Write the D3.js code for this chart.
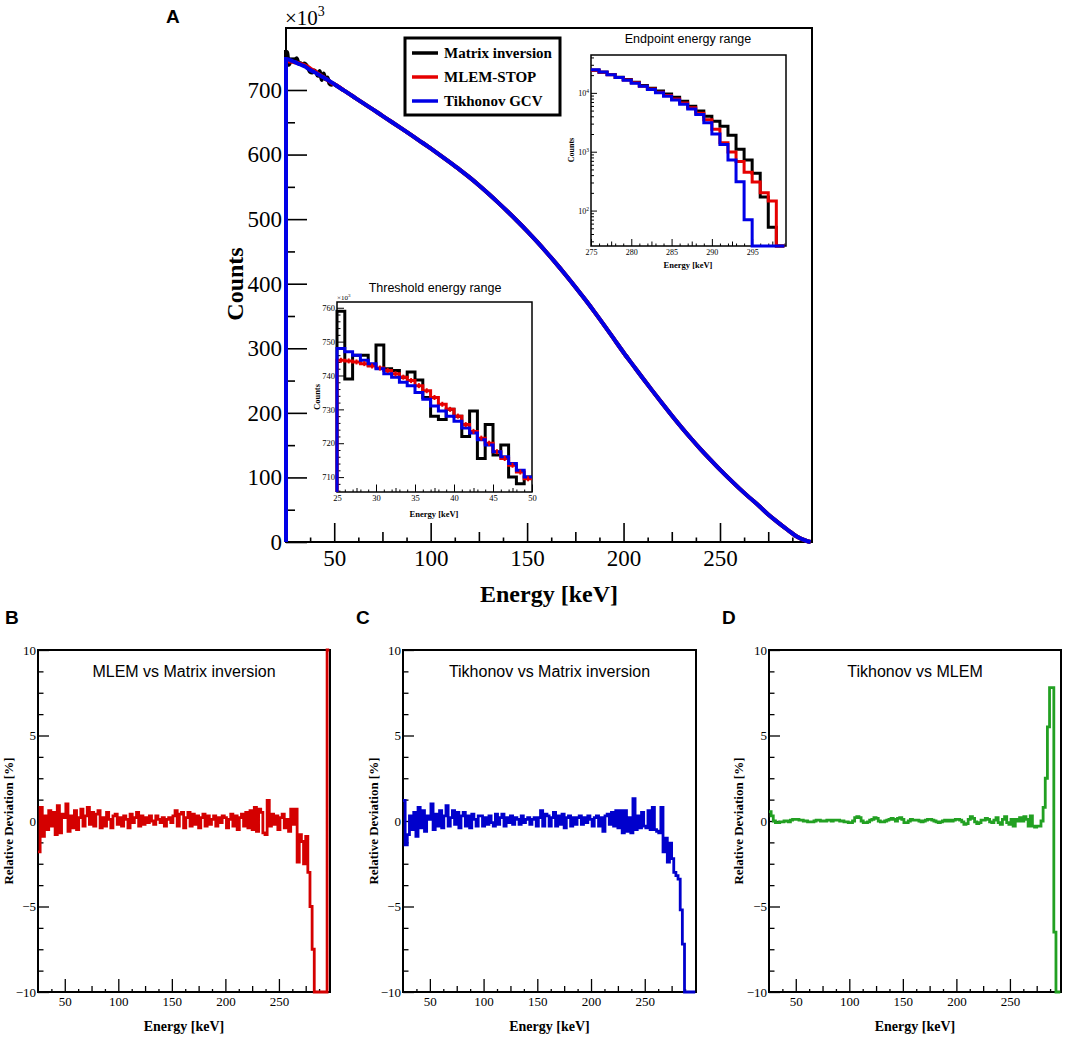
<!DOCTYPE html>
<html lang="en">
<head>
    <meta charset="UTF-8">
    <title>Unfolded spectrum - method comparison</title>
    <script src="https://d3js.org/d3.v7.min.js"></script>
    <style>
        html, body {
            margin: 0;
            background: #fff;
        }
        svg { display: block; }
    </style>
</head>
<body>
    <div id="vis"></div>
    <script>
        /*
         *  DATA
         */
        var seriesNames = ["Matrix inversion", "MLEM-STOP", "Tikhonov GCV"];
        var seriesColors = ["#000000", "#e60000", "#0000e6"];

        var mainTicksX = [50, 100, 150, 200, 250];
        var mainTicksY = [0, 100, 200, 300, 400, 500, 600, 700];

        // threshold region, 1 keV bins (lower edges), counts x10^3
        var thrEnergy = [25, 26, 27, 28, 29, 30, 31, 32, 33, 34, 35, 36, 37, 38, 39, 40, 41, 42, 43, 44, 45, 46, 47, 48, 49];
        var thrMatrix = [759, 739, 746, 746, 743, 749, 742, 741.5, 739.5, 741, 738.7, 733.5, 728, 727, 730, 728, 722, 729.5, 715.5, 725.5, 716.5, 719.5, 710, 708, 710];
        var thrMlem = [744.5, 744.3, 744, 743.5, 742.8, 742.2, 741.5, 740.5, 739.5, 738.5, 737, 735.5, 733.5, 731.5, 730, 728, 725.5, 723.5, 721.5, 720, 717.5, 715.5, 713.5, 711.5, 709.5];
        var thrTikh = [748, 747, 746, 744.5, 743.5, 742, 740.5, 739.5, 738, 737, 735, 733, 731, 729.5, 728, 726.5, 724.5, 723, 721, 719.5, 717.5, 716, 714, 712, 710];
        var thrTicksX = [25, 30, 35, 40, 45, 50];
        var thrTicksY = [710, 720, 730, 740, 750, 760];

        // full spectrum above 50 keV, read every 5 keV, counts x10^3
        var specEnergy = [50, 55, 60, 65, 70, 75, 80, 85, 90, 95, 100, 105, 110, 115, 120, 125, 130, 135, 140, 145,
                          150, 155, 160, 165, 170, 175, 180, 185, 190, 195, 200, 205, 210, 215, 220, 225, 230, 235, 240, 245,
                          250, 255, 260, 265, 270, 275, 280, 285, 290, 295, 297];
        var specCounts = [709, 699.3, 689.5, 679.7, 669.9, 660, 650.1, 640.1, 630, 619.8, 609.5, 598.9, 588, 576.8, 565, 552.5, 539.3, 525.6, 511.4, 496.7,
                          481.5, 465.5, 448.8, 431.5, 413.5, 395, 375.8, 356, 335.5, 314.5, 293.5, 273.5, 253.5, 234, 214.8, 196, 177.8, 160.3, 143.5, 127.5,
                          112, 97.3, 83, 69.5, 56.5, 42.5, 30.5, 19, 8, 1.5, 0];

        // endpoint region, 1 keV bins (lower edges), counts
        var endEnergy = [275, 276, 277, 278, 279, 280, 281, 282, 283, 284, 285, 286, 287, 288, 289, 290, 291, 292, 293, 294, 295, 296, 297, 298];
        var endMatrix = [24200, 22400, 20500, 18400, 16800, 15200, 13300, 12000, 10800, 9600, 8400, 7200, 5900, 4900, 4000, 3300, 2700, 1900, 1100, 720, 430, 170, 52, 0];
        var endMlem = [24300, 22300, 20300, 18300, 16500, 14800, 13000, 11600, 10200, 9000, 7900, 6700, 5600, 4500, 3500, 2400, 1420, 990, 680, 450, 305, 200, 145, 0];
        var endTikh = [24800, 22600, 20400, 18300, 16400, 14600, 12900, 11400, 10000, 8800, 7600, 6400, 5300, 4300, 3100, 2000, 1330, 720, 310, 70, 0, 0, 0, 0];
        var endTicksX = [275, 280, 285, 290, 295];
        var endTicksY = [100, 1000, 10000];

        // relative deviation [%], 2 keV bins starting at 25 keV
        var devEnergy = d3.range(25, 297, 2);
        var devMlemMatrix = [
            -1.8, 0.8, -0.9, 0.3, -0.5, 0.6, -0.3, 0.5, -0.8, 0.9,
            -0.7, 0.4, 0.2, 1.0, -0.6, 0.3, -0.4, 0.6, -0.5, 0.2,
            0.7, -0.3, 0.3, 0.8, -0.2, 0.5, -0.3, 0.4, 0.6, -0.4,
            0.2, -0.3, 0.5, 0.1, -0.4, 0.3, 0.4, -0.2, 0.2, -0.3,
            0.3, 0.1, -0.4, 0.4, -0.1, 0.2, 0.5, -0.3, 0.3, -0.2,
            0.2, -0.1, 0.3, 0.0, -0.2, 0.3, 0.1, -0.1, 0.2, -0.3,
            0.1, 0.2, -0.1, 0.3, 0.6, -0.3, 0.4, 0.5, -0.4, 0.2,
            0.5, -0.3, 0.4, -0.2, 0.3, -0.4, 0.2, 0.4, -0.3, 0.3,
            -0.2, 0.1, 0.3, -0.3, 0.2, -0.1, 0.3, 0.2, -0.4, 0.1,
            0.4, -0.3, 0.3, -0.5, 0.2, 0.4, -0.3, 0.5, -0.4, 0.6,
            -0.5, 0.8, -0.6, 0.7, 0.5, -0.7, -0.8, 1.2, -0.3, 0.4,
            -0.2, 0.3, -0.5, 0.2, 0.4, -0.4, 0.1, -0.6, 0.7, -0.2,
            0.7, -2.4, -0.8, -1.2, -2.5, -0.9, -3.0, -5.0, -7.5, -12,
            -12, -12, -12, -12, -12, 12];
        var devTikhMatrix = [
            1.2, -1.4, -0.8, 0.3, -0.5, 0.5, -0.9, 0.8, -0.4, 0.6,
            -0.6, 0.3, 0.1, 1.0, -0.5, 0.4, -0.3, 0.6, -0.4, 0.3,
            0.9, -0.3, 0.2, 0.6, -0.2, 0.5, -0.4, 0.3, 0.5, -0.3,
            0.3, -0.4, 0.4, 0.1, -0.3, 0.3, 0.3, -0.3, 0.2, -0.2,
            0.3, -0.1, -0.3, 0.4, -0.2, 0.2, 0.4, -0.3, 0.2, -0.1,
            0.3, -0.2, 0.2, 0.1, -0.2, 0.3, -0.1, 0.1, 0.2, -0.2,
            0.1, 0.2, -0.3, 0.2, 0.6, -0.3, 0.4, 0.3, -0.3, 0.2,
            0.5, -0.3, 0.3, -0.2, 0.4, -0.4, 0.2, 0.3, -0.3, 0.2,
            -0.2, 0.2, 0.3, -0.2, 0.2, -0.1, 0.3, 0.1, -0.3, 0.2,
            0.3, -0.3, 0.2, -0.6, 0.3, 0.4, -0.2, 0.5, -0.3, 0.6,
            -0.4, 0.6, -0.7, 0.6, -0.6, 0.2, -0.7, 1.3, -0.5, 0.3,
            -0.4, 0.5, -0.3, -0.4, 0.6, -0.5, 0.8, -0.5, -0.6, -0.7,
            0.8, -1.8, -1.0, -2.4, -1.3, -2.2, -3.0, -3.2, -3.4, -5.2,
            -7.2, -12, -12, -12, -12, -12];
        var devTikhMlem = [
            0.55, 0.3, 0.0, -0.1, -0.1, -0.05, -0.05, 0.0, 0.0, -0.05,
            0.05, 0.1, 0.1, 0.1, 0.05, 0.05, 0.0, 0.0, -0.05, -0.05,
            -0.05, 0.0, 0.05, 0.05, 0.0, 0.0, 0.0, 0.05, 0.05, 0.0,
            0.05, 0.05, 0.05, 0.0, 0.0, -0.05, -0.05, -0.1, -0.1, 0.0,
            0.2, 0.25, 0.2, 0.0, -0.1, -0.1, -0.05, 0.05, 0.1, 0.2,
            0.15, 0.0, -0.05, -0.05, 0.0, 0.05, 0.1, 0.15, 0.1, 0.0,
            0.15, 0.2, 0.1, -0.1, -0.1, 0.0, 0.1, 0.05, 0.05, 0.05,
            0.0, -0.05, 0.0, 0.05, 0.1, 0.1, 0.05, 0.0, -0.05, -0.1,
            -0.05, 0.0, 0.05, 0.0, 0.05, 0.0, 0.05, 0.1, 0.1, 0.05,
            -0.05, -0.2, -0.15, 0.1, 0.25, 0.15, -0.05, -0.15, -0.1, 0.05,
            0.05, 0.15, 0.1, -0.05, -0.1, 0.05, 0.2, -0.1, -0.2, 0.1,
            0.25, -0.1, -0.2, 0.1, -0.3, 0.1, 0.0, 0.2, 0.0, 0.25,
            0.1, -0.3, 0.3, -0.3, -0.35, -0.3, -0.3, 0.0, 0.8, 2.5,
            5.5, 7.8, 7.8, -6.5, -12, -12];
        var devTicksX = [50, 100, 150, 200, 250];
        var devTicksY = [-10, -5, 0, 5, 10];

        /*
         *  SETUP
         */
        var SERIF = "'Liberation Serif', 'Times New Roman', serif";
        var SANS = "'Liberation Sans', Arial, sans-serif";

        var svg = d3.select('#vis')
            .append('svg')
                .attr('width', 1065)
                .attr('height', 1037);

        function minorTicks(start, stop, step, skip) {
            // tick positions on a regular grid, without the ones already drawn
            return d3.range(start, stop + 1e-9, step).filter(function(v) {
                return skip.every(function(m) { return Math.abs(m - v) > 1e-6; });
            });
        }

        function drawAxes(g, x, y, o) {
            var x0 = x.range()[0], x1 = x.range()[1];
            var y0 = y.range()[0], y1 = y.range()[1];

            g.append('rect')
                .attr('x', x0).attr('y', y1)
                .attr('width', x1 - x0).attr('height', y0 - y1)
                .attr('fill', 'none')
                .attr('stroke', '#000')
                .attr('stroke-width', o.frame);

            var axes = [];
            var bottom = g.append('g')
                .attr('transform', 'translate(0,' + y0 + ')')
                .call(d3.axisBottom(x).tickValues(o.xMajor).tickSize(-o.xLen).tickPadding(o.xPad)
                    .tickFormat(o.xFmt || function(d) { return d; }));
            axes.push(bottom);
            (o.xMinor || []).forEach(function(m) {
                axes.push(g.append('g')
                    .attr('transform', 'translate(0,' + y0 + ')')
                    .call(d3.axisBottom(x).tickValues(m[0]).tickSize(-m[1]).tickFormat('')));
            });

            var left = g.append('g')
                .attr('transform', 'translate(' + x0 + ',0)')
                .call(d3.axisLeft(y).tickValues(o.yMajor).tickSize(-o.yLen).tickPadding(o.yPad)
                    .tickFormat(o.yFmt || function(d) { return d < 0 ? '\u2212' + (-d) : d; }));
            axes.push(left);
            (o.yMinor || []).forEach(function(m) {
                axes.push(g.append('g')
                    .attr('transform', 'translate(' + x0 + ',0)')
                    .call(d3.axisLeft(y).tickValues(m[0]).tickSize(-m[1]).tickFormat('')));
            });

            axes.forEach(function(a) {
                a.select('.domain').remove();
                a.selectAll('line').attr('stroke', '#000').attr('stroke-width', o.tickW);
                a.attr('font-family', SERIF).attr('font-size', o.font);
                a.selectAll('text').attr('fill', '#000');
            });
            bottom.selectAll('text').attr('dy', '0.71em');
            return {bottom: bottom, left: left};
        }

        /*
         *  PANEL A - unfolded spectra
         */
        var mx = d3.scaleLinear().domain([25, 297.7]).range([286, 812]).clamp(true);
        var my = d3.scaleLinear().domain([0, 796]).range([542, 28]).clamp(true);
        var gA = svg.append('g');

        var mainMid = minorTicks(75, 275, 50, []);
        drawAxes(gA, mx, my, {
            frame: 2, tickW: 1.6, font: 23,
            xMajor: mainTicksX, xPad: 8, xLen: 19,
            xMinor: [[mainMid, 10], [minorTicks(37.5, 295, 12.5, mainTicksX.concat(mainMid)), 4.5]],
            yMajor: mainTicksY, yPad: 4, yLen: 21,
            yMinor: [[minorTicks(50, 750, 100, []), 9]]
        });

        var mainLine = d3.line()
            .curve(d3.curveMonotoneX)
            .x(function(d) { return mx(d[0]); })
            .y(function(d) { return my(d[1]); });

        [thrMatrix, thrMlem, thrTikh].forEach(function(thr, k) {
            var pts = [[24.999, 0], [25, thr[0]]]
                .concat(thr.map(function(v, i) { return [thrEnergy[i] + 0.5, v]; }))
                .concat(specCounts.map(function(v, i) { return [specEnergy[i], v]; }));
            gA.append('path')
                .datum(pts)
                .attr('d', mainLine)
                .attr('fill', 'none')
                .attr('stroke', seriesColors[k])
                .attr('stroke-width', 4);
        });

        // x10^3 multiplier
        var mult = gA.append('text')
            .attr('x', 285).attr('y', 25)
            .attr('font-family', SERIF).attr('font-size', 21)
            .text('\u00d710');
        mult.append('tspan').attr('dy', -9).attr('font-size', 14).text('3');

        gA.append('text')
            .attr('transform', 'translate(243,284) rotate(-90)')
            .attr('text-anchor', 'middle')
            .attr('font-family', SERIF).attr('font-weight', 'bold').attr('font-size', 24)
            .text('Counts');

        gA.append('text')
            .attr('x', 549).attr('y', 602)
            .attr('text-anchor', 'middle')
            .attr('font-family', SERIF).attr('font-weight', 'bold').attr('font-size', 24)
            .text('Energy [keV]');

        gA.append('text')
            .attr('x', 166).attr('y', 23)
            .attr('font-family', SANS).attr('font-weight', 'bold').attr('font-size', 19)
            .text('A');

        // legend
        var legend = gA.append('g');
        legend.append('rect')
            .attr('x', 405).attr('y', 38).attr('width', 155).attr('height', 77)
            .attr('fill', '#fff').attr('stroke', '#000').attr('stroke-width', 3);
        seriesNames.forEach(function(name, k) {
            var yy = 53 + k * 24;
            legend.append('line')
                .attr('x1', 412).attr('x2', 438).attr('y1', yy).attr('y2', yy)
                .attr('stroke', seriesColors[k]).attr('stroke-width', 3.5);
            legend.append('text')
                .attr('x', 444).attr('y', yy).attr('dy', '0.35em')
                .attr('font-family', SERIF).attr('font-weight', 'bold').attr('font-size', 15)
                .text(name);
        });

        /*
         *  INSET - endpoint energy range (log)
         */
        var ex = d3.scaleLinear().domain([275, 299.2]).range([591, 786]).clamp(true);
        var ey = d3.scaleLog().domain([25, 44000]).range([246, 55]).clamp(true);
        var gE = svg.append('g');
        var logMinor = [];
        [10, 100, 1000, 10000].forEach(function(dec) {
            d3.range(2, 10).forEach(function(m) {
                var v = dec * m;
                if (v > 25 && v < 44000) logMinor.push(v);
            });
        });
        var eAx = drawAxes(gE, ex, ey, {
            frame: 1.5, tickW: 1, font: 8,
            xMajor: endTicksX, xPad: 3, xLen: 7,
            xMinor: [[minorTicks(277.5, 297.5, 5, []), 4.5], [minorTicks(276, 299, 1, endTicksX), 2.5]],
            yMajor: endTicksY, yPad: 2, yLen: 6,
            yMinor: [[logMinor, 3]],
            yFmt: function() { return '10'; }
        });
        eAx.left.selectAll('text').each(function(d) {
            d3.select(this).append('tspan')
                .attr('dy', -3).attr('font-size', 5.5)
                .text(Math.round(Math.log10(d)));
        });

        var endLine = d3.line()
            .curve(d3.curveStepAfter)
            .x(function(d) { return ex(d[0]); })
            .y(function(d) { return ey(Math.max(d[1], 1)); });

        [endMatrix, endMlem, endTikh].forEach(function(arr, k) {
            var pts = arr.map(function(v, i) { return [endEnergy[i], v]; });
            pts.push([endEnergy[endEnergy.length - 1] + 1, arr[arr.length - 1]]);
            gE.append('path')
                .datum(pts)
                .attr('d', endLine)
                .attr('fill', 'none')
                .attr('stroke', seriesColors[k])
                .attr('stroke-width', 3);
        });

        gE.append('text')
            .attr('x', 688).attr('y', 43)
            .attr('text-anchor', 'middle')
            .attr('font-family', SANS).attr('font-size', 12.5)
            .text('Endpoint energy range');
        gE.append('text')
            .attr('transform', 'translate(574,150) rotate(-90)')
            .attr('text-anchor', 'middle')
            .attr('font-family', SERIF).attr('font-weight', 'bold').attr('font-size', 8)
            .text('Counts');
        gE.append('text')
            .attr('x', 688).attr('y', 268)
            .attr('text-anchor', 'middle')
            .attr('font-family', SERIF).attr('font-weight', 'bold').attr('font-size', 8.5)
            .text('Energy [keV]');

        /*
         *  INSET - threshold energy range
         */
        var tx = d3.scaleLinear().domain([25, 50]).range([337, 532]).clamp(true);
        var ty = d3.scaleLinear().domain([705.6, 761.7]).range([492, 302]).clamp(true);
        var gT = svg.append('g');

        // white backing so the inset sits over the main pad
        gT.append('rect')
            .attr('x', 337).attr('y', 302).attr('width', 195).attr('height', 190)
            .attr('fill', '#fff');

        drawAxes(gT, tx, ty, {
            frame: 1.5, tickW: 1, font: 8.5,
            xMajor: thrTicksX, xPad: 3, xLen: 7.5,
            xMinor: [[minorTicks(27.5, 47.5, 5, []), 4], [minorTicks(26, 49, 1, thrTicksX), 2.5]],
            yMajor: thrTicksY, yPad: 2, yLen: 7,
            yMinor: [[minorTicks(706, 761, 2, thrTicksY), 3.5]]
        });

        var thrLine = d3.line()
            .curve(d3.curveStepAfter)
            .x(function(d) { return tx(d[0]); })
            .y(function(d) { return ty(d[1]); });

        [thrMatrix, thrMlem, thrTikh].forEach(function(arr, k) {
            var pts = [[25, 0]].concat(arr.map(function(v, i) { return [thrEnergy[i], v]; }));
            pts.push([50, arr[arr.length - 1]]);
            gT.append('path')
                .datum(pts)
                .attr('d', thrLine)
                .attr('fill', 'none')
                .attr('stroke', seriesColors[k])
                .attr('stroke-width', 3);
        });

        // small error bars on the MLEM histogram
        gT.selectAll('.err')
            .data(thrMlem)
            .enter().append('line')
                .attr('class', 'err')
                .attr('x1', function(d, i) { return tx(thrEnergy[i] + 0.5); })
                .attr('x2', function(d, i) { return tx(thrEnergy[i] + 0.5); })
                .attr('y1', function(d) { return ty(d) - 2.5; })
                .attr('y2', function(d) { return ty(d) + 2.5; })
                .attr('stroke', seriesColors[1]).attr('stroke-width', 2);

        var tm = gT.append('text')
            .attr('x', 337).attr('y', 300)
            .attr('font-family', SERIF).attr('font-size', 7)
            .text('\u00d710');
        tm.append('tspan').attr('dy', -3).attr('font-size', 5).text('3');

        gT.append('text')
            .attr('x', 435).attr('y', 292)
            .attr('text-anchor', 'middle')
            .attr('font-family', SANS).attr('font-size', 12.5)
            .text('Threshold energy range');
        gT.append('text')
            .attr('transform', 'translate(320,397) rotate(-90)')
            .attr('text-anchor', 'middle')
            .attr('font-family', SERIF).attr('font-weight', 'bold').attr('font-size', 8.5)
            .text('Counts');
        gT.append('text')
            .attr('x', 434).attr('y', 517)
            .attr('text-anchor', 'middle')
            .attr('font-family', SERIF).attr('font-weight', 'bold').attr('font-size', 8.5)
            .text('Energy [keV]');

        /*
         *  PANELS B, C, D - relative deviations
         */
        var panels = [
            {letter: 'B', left: 38, right: 330, title: 'MLEM vs Matrix inversion', values: devMlemMatrix, color: '#d40000', letterX: 5, labelX: 13},
            {letter: 'C', left: 403, right: 696, title: 'Tikhonov vs Matrix inversion', values: devTikhMatrix, color: '#0000cc', letterX: 356, labelX: 378},
            {letter: 'D', left: 769, right: 1061, title: 'Tikhonov vs MLEM', values: devTikhMlem, color: '#22a022', letterX: 722, labelX: 743}
        ];

        var devMid = minorTicks(75, 275, 50, []);
        panels.forEach(function(p) {
            var g = svg.append('g');
            var px = d3.scaleLinear().domain([25, 297.7]).range([p.left, p.right]).clamp(true);
            var py = d3.scaleLinear().domain([-10, 10]).range([992, 650]).clamp(true);

            drawAxes(g, px, py, {
                frame: 2, tickW: 1.3, font: 13,
                xMajor: devTicksX, xPad: 5, xLen: 13,
                xMinor: [[devMid, 6], [minorTicks(37.5, 295, 12.5, devTicksX.concat(devMid)), 3]],
                yMajor: devTicksY, yPad: 2, yLen: 11,
                yMinor: [[minorTicks(-8.75, 8.75, 1.25, devTicksY), 5.5]]
            });

            var pts = p.values.map(function(v, i) { return [devEnergy[i], v]; });
            pts.push([devEnergy[devEnergy.length - 1] + 2, p.values[p.values.length - 1]]);

            g.append('path')
                .datum(pts)
                .attr('d', d3.line()
                    .curve(d3.curveStepAfter)
                    .x(function(d) { return px(d[0]); })
                    .y(function(d) { return py(d[1]); }))
                .attr('fill', 'none')
                .attr('stroke', p.color)
                .attr('stroke-width', 2.8);

            g.append('text')
                .attr('x', (p.left + p.right) / 2).attr('y', 677)
                .attr('text-anchor', 'middle')
                .attr('font-family', SANS).attr('font-size', 16)
                .text(p.title);

            g.append('text')
                .attr('x', p.letterX).attr('y', 624)
                .attr('font-family', SANS).attr('font-weight', 'bold').attr('font-size', 19)
                .text(p.letter);

            g.append('text')
                .attr('transform', 'translate(' + p.labelX + ',821) rotate(-90)')
                .attr('text-anchor', 'middle')
                .attr('font-family', SERIF).attr('font-weight', 'bold').attr('font-size', 13)
                .text('Relative Deviation [%]');

            g.append('text')
                .attr('x', (p.left + p.right) / 2).attr('y', 1031)
                .attr('text-anchor', 'middle')
                .attr('font-family', SERIF).attr('font-weight', 'bold').attr('font-size', 14)
                .text('Energy [keV]');
        });
    </script>
</body>
</html>
